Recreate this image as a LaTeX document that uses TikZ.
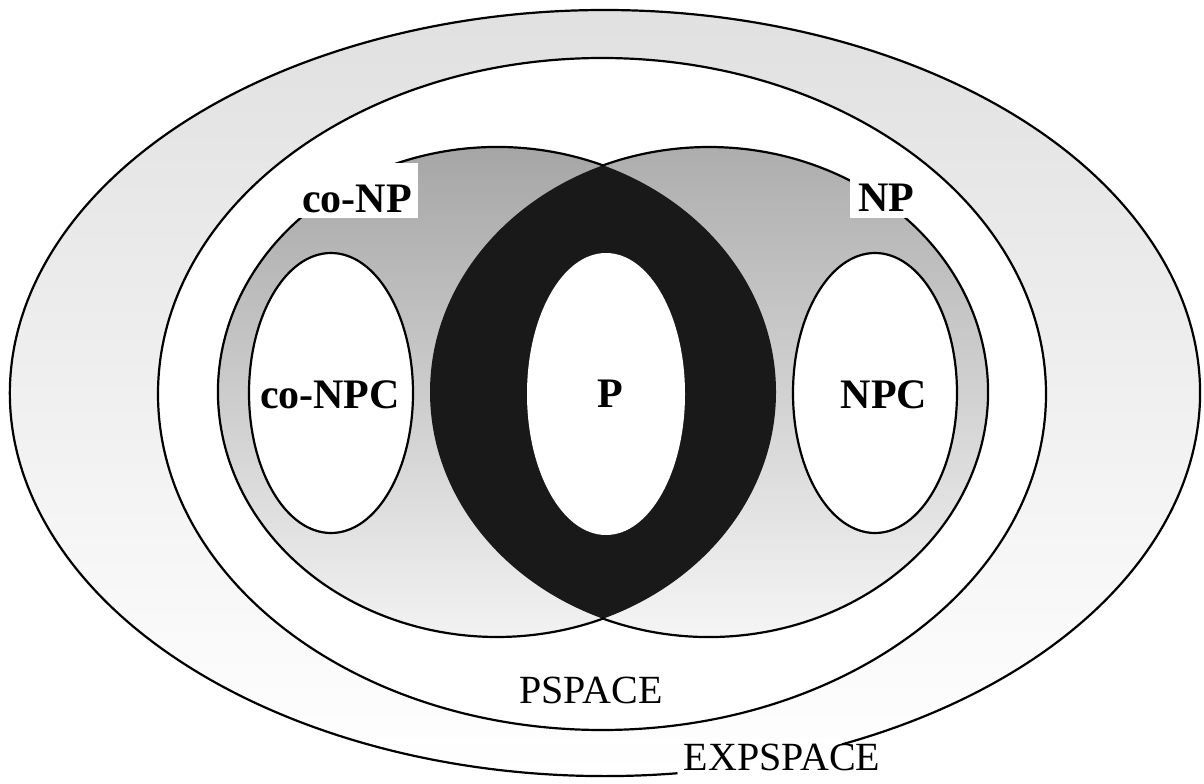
\documentclass[tikz,border=0pt]{standalone}
\usepackage{fontspec}
\setmainfont{Liberation Serif}
\begin{document}
\begin{tikzpicture}[x=0.5pt,y=0.5pt,
  outline/.style={line width=1.1pt, draw=black},
  lbl/.style={font=\fontsize{21}{24}\selectfont\bfseries, inner sep=2pt, anchor=base},
  biglbl/.style={font=\fontsize{20}{24}\selectfont, inner sep=2pt, anchor=base},
  boxlbl/.style={font=\fontsize{21}{24}\selectfont\bfseries, fill=white, anchor=base}]
\useasboundingbox (0,0) rectangle (1204,783);
% EXPSPACE ring
\shade[top color=gray!24, middle color=gray!26, bottom color=white]
  (605,390) ellipse[x radius=595, y radius=383];
\draw[outline] (842.2,38.7) arc[start angle=-66.5, end angle=277, x radius=595, y radius=383];
% PSPACE
\filldraw[outline, fill=white] (602,389) ellipse[x radius=444, y radius=336];
% co-NP and NP
\shade[top color=gray!70, bottom color=gray!10] (497,391) ellipse[x radius=279, y radius=245];
\shade[top color=gray!64, bottom color=gray!8] (709,391) ellipse[x radius=279, y radius=245];
\begin{scope}
  \clip (497,391) ellipse[x radius=279, y radius=245];
  \fill[black!90] (709,391) ellipse[x radius=279, y radius=245];
\end{scope}
\draw[outline] (603.3,617.5) arc[start angle=67.6, end angle=292.4, x radius=279, y radius=245];
\draw[outline] (602.7,164.5) arc[start angle=-112.4, end angle=112.4, x radius=279, y radius=245];
% complete sets and P
\filldraw[outline, fill=white] (331,390) ellipse[x radius=82, y radius=140];
\filldraw[outline, fill=white] (875,390) ellipse[x radius=82, y radius=140];
\fill[white] (606,389) ellipse[x radius=79, y radius=141];
% labels
\node[boxlbl, text height=22.5pt, inner ysep=2.5pt, inner xsep=3pt] (conp) at (357,570) {co-NP};
\node[boxlbl, text height=19pt, inner ysep=3pt, inner xsep=4pt] (np) at (886,571) {NP};
\node[lbl] (conpc) at (330,375) {co-NPC};
\node[lbl] (npc) at (884,375) {NPC};
\node[lbl] (p) at (610,376) {P};
\node[biglbl] (pspace) at (591,80) {PSPACE};
\node[biglbl] (expspace) at (782,13) {EXPSPACE};
\end{tikzpicture}
\end{document}
